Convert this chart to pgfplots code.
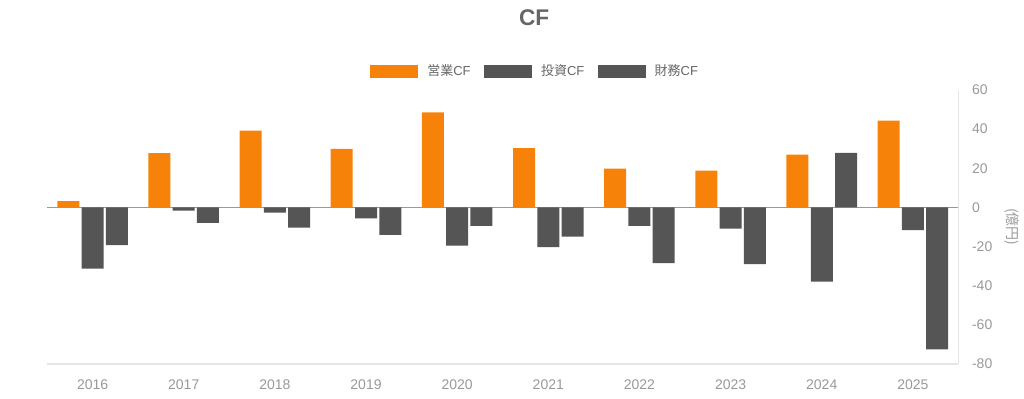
\documentclass[border=0pt]{standalone}
\usepackage{fontspec}
\setmainfont{Liberation Sans}
\newfontfamily\cjk{Noto Sans CJK JP}
\usepackage{pgfplots}
\usepackage{pgfplotstable}
\pgfplotsset{compat=1.18}
\definecolor{cforange}{HTML}{F7820A}
\definecolor{cfgray}{HTML}{555555}
\definecolor{ticktext}{HTML}{999999}
\definecolor{legtext}{HTML}{666666}
\definecolor{axline}{HTML}{E6E6E6}
\definecolor{zeroline}{HTML}{999999}

\pgfplotstableread{
x op inv fin
0 3.2 -31.3 -19.3
1 27.7 -1.7 -7.9
2 39.3 -2.7 -10.3
3 29.9 -5.6 -14.0
4 48.6 -19.5 -9.4
5 30.3 -20.3 -14.9
6 19.8 -9.4 -28.5
7 18.8 -10.8 -29.0
8 27.0 -37.9 27.9
9 44.3 -11.6 -72.5
}\cfdata

\begin{document}
\begin{tikzpicture}
\useasboundingbox (-35.25pt,-26.25pt) rectangle (732.75pt,273pt);
\begin{axis}[
  at={(0pt,0pt)}, anchor=south west,
  scale only axis, width=683.6pt, height=205.5pt,
  xmin=-0.5, xmax=9.5, ymin=-80, ymax=60,
  xtick={0,1,2,3,4,5,6,7,8,9},
  xticklabels={2016,2017,2018,2019,2020,2021,2022,2023,2024,2025},
  ytick={-80,-60,-40,-20,0,20,40,60},
  axis x line*=bottom, axis y line*=right,
  axis line style={draw=axline, line width=0.9pt, -},
  major tick length=0pt,
  /pgf/number format/assume math mode=true,
  tick label style={font=\fontsize{10.5}{12}\selectfont, text=ticktext},
  xticklabel style={anchor=center, inner sep=0pt, yshift=-15.75pt},
  yticklabel style={anchor=west, inner sep=0pt, xshift=10pt},
  ybar=1.7pt, bar width=16.5pt,
  title={CF},
  title style={at={(axis description cs:0.5345,1.2336)}, anchor=center,
    font=\fontsize{17}{20}\selectfont\bfseries, text=legtext},
  legend columns=3,
  legend style={at={(axis description cs:0.5345,1.069)}, anchor=center,
    draw=none, fill=none, font=\fontsize{9.75}{12}\selectfont, text=legtext,
    nodes={inner sep=0pt},
    /tikz/every odd column/.append style={column sep=6.75pt},
    /tikz/every even column/.append style={column sep=10pt}},
  legend image code/.code={\fill[#1] (0pt,-4.875pt) rectangle (36pt,4.875pt);},
]
\draw[zeroline, line width=1pt] (axis cs:-0.5,0) -- (axis cs:9.5,0);
\addplot[fill=cforange, draw=none] table[x=x, y=op] {\cfdata};
\addlegendentry{{\cjk 営業}CF}
\addplot[fill=cfgray, draw=none] table[x=x, y=inv] {\cfdata};
\addlegendentry{{\cjk 投資}CF}
\addplot[fill=cfgray, draw=none] table[x=x, y=fin] {\cfdata};
\addlegendentry{{\cjk 財務}CF}
\end{axis}
\node[rotate=-90, font=\fontsize{10.5}{12}\selectfont\cjk, text=ticktext] at (723.75pt,102.75pt) {(億円)};
\end{tikzpicture}
\end{document}
